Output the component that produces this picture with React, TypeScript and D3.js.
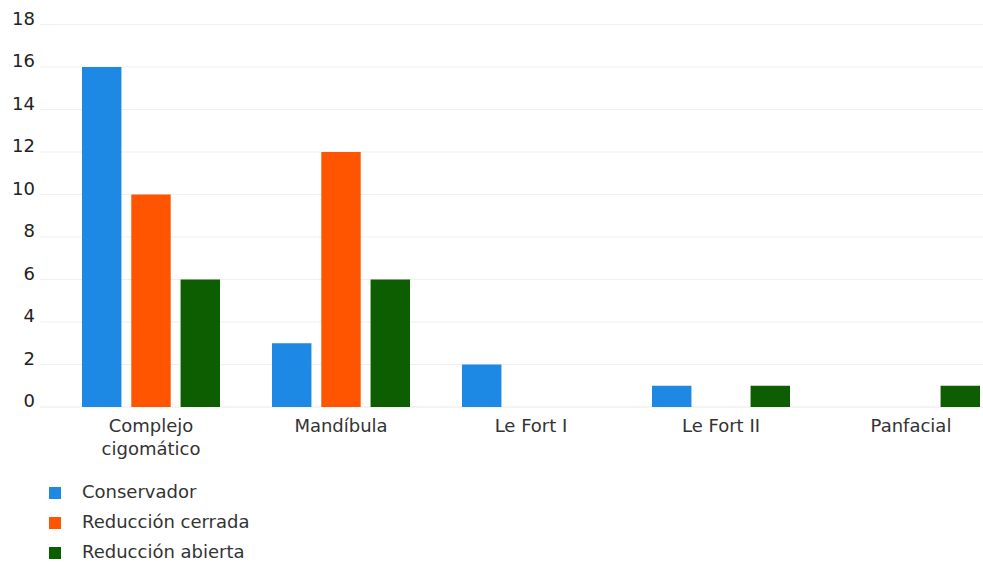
import React from "react";
import * as d3 from "d3";

const categories = [["Complejo", "cigomático"], ["Mandíbula"], ["Le Fort I"], ["Le Fort II"], ["Panfacial"]];
const seriesNames = ["Conservador", "Reducción cerrada", "Reducción abierta"];
const conservador = [16, 3, 2, 1, 0];
const reduccionCerrada = [10, 12, 0, 0, 0];
const reduccionAbierta = [6, 6, 0, 1, 1];
const yTicks = [0, 2, 4, 6, 8, 10, 12, 14, 16, 18];
const colors = ["#1e88e5", "#ff5500", "#0d5e00"];

const W = 983;
const H = 563;
const FONT = "'DejaVu Sans', Verdana, sans-serif";

export default function App() {
  const seriesValues = [conservador, reduccionCerrada, reduccionAbierta];
  const keys = categories.map((c) => c.join(" "));
  const y = d3.scaleLinear().domain([0, 18]).range([407, 24.5]);
  const x0 = d3.scaleBand().domain(keys).range([56, 1006]).paddingInner(0).paddingOuter(0);
  const x1 = d3.scaleBand().domain(seriesNames).range([-69, 69]).paddingInner(0.2);
  const bw = x1.bandwidth();

  return (
    <svg width={W} height={H} style={{ position: "absolute", left: 0, top: 0, background: "#fff" }} fontFamily={FONT}>
      {yTicks.map((t) => (
        <g key={t}>
          <line x1={40} x2={W} y1={y(t)} y2={y(t)} stroke={t === 0 ? "#e8e8e8" : "#efefef"} strokeWidth={1} />
          <text x={35} y={y(t)} textAnchor="end" fontSize={18} fill="#222">
            {t}
          </text>
        </g>
      ))}
      {keys.map((k, i) => (
        <g key={k} transform={`translate(${x0(k)! + x0.bandwidth() / 2},0)`}>
          {seriesNames.map((s, j) => {
            const v = seriesValues[j][i];
            if (!v) return null;
            return (
              <rect key={s} x={x1(s)!} y={y(v)} width={bw} height={y(0) - y(v)} fill={colors[j]} />
            );
          })}
          {categories[i].map((line, li) => (
            <text key={li} x={0} y={432 + li * 23} textAnchor="middle" fontSize={18} fill="#333">
              {line}
            </text>
          ))}
        </g>
      ))}
      {seriesNames.map((s, j) => (
        <g key={s} transform={`translate(0,${487 + j * 30})`}>
          <rect x={49} y={0} width={12} height={12} fill={colors[j]} />
          <text x={82} y={11} fontSize={18} fill="#333">
            {s}
          </text>
        </g>
      ))}
    </svg>
  );
}
